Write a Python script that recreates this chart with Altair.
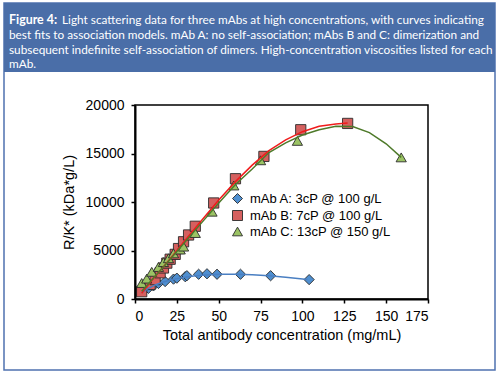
import altair as alt
import pandas as pd

# ---------------- data ----------------
series_names = ["mAb A: 3cP @ 100 g/L", "mAb B: 7cP @ 100 g/L", "mAb C: 13cP @ 150 g/L"]

a_x = [5, 8, 11, 14, 18, 23, 25, 30, 31, 38, 43, 49, 63, 81, 104]
a_y = [850, 1100, 1350, 1600, 1800, 2050, 2150, 2300, 2400, 2550, 2600, 2550, 2550, 2400, 2000]

b_x = [4, 9, 12, 15, 17, 19, 21, 24, 26, 29, 32, 36, 47, 60, 77, 99, 127]
b_y = [750, 1500, 2000, 2700, 3200, 3700, 4100, 4600, 5200, 5900, 6600, 7500, 9900, 12400, 14700, 17450, 18100]

c_x = [4, 7, 10, 14, 17, 20, 23, 27, 29, 36, 46, 59, 75, 97, 159]
c_y = [1650, 2100, 2800, 3300, 3800, 4200, 4700, 5100, 5400, 6800, 9000, 11700, 14300, 16300, 14600]

fit_a_x = [4, 8, 12, 16, 20, 25, 30, 35, 40, 50, 60, 70, 80, 90, 103]
fit_a_y = [650, 1100, 1450, 1700, 1900, 2100, 2250, 2380, 2460, 2540, 2550, 2500, 2400, 2250, 2000]

fit_b_x = [4, 10, 20, 30, 40, 50, 60, 70, 80, 90, 100, 110, 120, 127]
fit_b_y = [600, 1900, 3950, 6050, 8150, 10200, 12100, 13800, 15300, 16400, 17250, 17800, 18050, 18150]

fit_c_x = [4, 10, 20, 30, 40, 50, 60, 70, 80, 90, 100, 110, 120, 130, 140, 150, 159]
fit_c_y = [800, 1950, 3900, 5900, 7900, 9900, 11800, 13400, 15100, 16100, 16900, 17450, 17800, 17780, 17150, 16000, 14600]

fill_colors = ["#4f8fd0", "#d5605f", "#9bc364"]
line_colors = ["#4a7fc2", "#f01c1c", "#4e7a2a"]
shapes = ["diamond", "square", "triangle-up"]

x_ticks = [0, 25, 50, 75, 100, 125, 150, 175]
y_ticks = [0, 5000, 10000, 15000, 20000]

header_bold = "Figure 4:"
header_lines = [
    "Light scattering data for three mAbs at high concentrations, with curves indicating",
    "best fits to association models. mAb A: no self-association; mAbs B and C: dimerization and",
    "subsequent indefinite self-association of dimers. High-concentration viscosities listed for each",
    "mAb.",
]

# ---------------- tables ----------------
pts = pd.concat([
    pd.DataFrame({"x": a_x, "y": a_y, "series": series_names[0]}),
    pd.DataFrame({"x": b_x, "y": b_y, "series": series_names[1]}),
    pd.DataFrame({"x": c_x, "y": c_y, "series": series_names[2]}),
])
fits = pd.concat([
    pd.DataFrame({"x": fit_a_x, "y": fit_a_y, "curve": "A", "col": line_colors[0]}),
    pd.DataFrame({"x": fit_b_x, "y": fit_b_y, "curve": "B", "col": line_colors[1]}),
    pd.DataFrame({"x": fit_c_x, "y": fit_c_y, "curve": "C", "col": line_colors[2]}),
])

W, H = 293, 194
PL, PT = 135, 105

xs = alt.Scale(domain=[0, 175], nice=False)
ys = alt.Scale(domain=[0, 20000], nice=False)
xaxis = alt.Axis(values=x_ticks, title="Total antibody concentration (mg/mL)", grid=False, format="d",
                 domainColor="black", domainWidth=2, tickColor="black", tickWidth=1.5, tickSize=4,
                 labelFont="Liberation Sans", labelFontSize=14, labelColor="black", labelPadding=6,
                 titleFont="Liberation Sans", titleFontSize=14.5, titleFontWeight="normal",
                 titleColor="black", titlePadding=5, zindex=1)
yaxis = alt.Axis(values=y_ticks, title="R/K* (kDa*g/L)", grid=False, format="d",
                 domainColor="black", domainWidth=2, tickColor="black", tickWidth=1.5, tickSize=4,
                 labelFont="Liberation Sans", labelFontSize=14, labelColor="black", labelPadding=7,
                 titleFont="Liberation Sans", titleFontSize=14.5, titleFontWeight="normal",
                 titleColor="black", titlePadding=9, zindex=1)

points = alt.Chart(pts).mark_point(filled=True, opacity=1, stroke="#2a2a2a", strokeWidth=0.9, size=105).encode(
    x=alt.X("x:Q", scale=xs, axis=xaxis),
    y=alt.Y("y:Q", scale=ys, axis=yaxis),
    fill=alt.Fill("series:N", scale=alt.Scale(domain=series_names, range=fill_colors),
                  legend=alt.Legend(title=None, orient="none", legendX=96, legendY=87,
                                    labelFont="Liberation Sans", labelFontSize=13, labelColor="black",
                                    symbolSize=100, symbolStrokeColor="#2a2a2a", symbolStrokeWidth=0.9,
                                    symbolOpacity=1, rowPadding=2, labelOffset=6)),
    shape=alt.Shape("series:N", scale=alt.Scale(domain=series_names, range=shapes)),
)

lines = alt.Chart(fits).mark_line(strokeWidth=1.5).encode(
    x=alt.X("x:Q", scale=xs),
    y=alt.Y("y:Q", scale=ys),
    detail="curve:N",
    color=alt.Color("col:N", scale=None),
)

one = pd.DataFrame({"k": [0]})
frame = alt.Chart(one).mark_rect(fill="transparent", stroke="#4f72b0", strokeWidth=1.5).encode(
    x=alt.value(4 - PL), x2=alt.value(495 - PL), y=alt.value(3 - PT), y2=alt.value(370 - PT))
header = alt.Chart(one).mark_rect(fill="#4a6ea8").encode(
    x=alt.value(4 - PL), x2=alt.value(495 - PL), y=alt.value(3 - PT), y2=alt.value(72 - PT))

hdr_font = "Lato"
hdr_size = 11.8
txt_layers = [
    alt.Chart(pd.DataFrame({"t": [header_bold]})).mark_text(
        align="left", baseline="alphabetic", font=hdr_font, fontSize=12.4, fontWeight="bold",
        color="white").encode(x=alt.value(9 - PL), y=alt.value(24.3 - PT), text="t:N")
]
baselines = [24.3, 39.0, 53.7, 68.4]
for i, line in enumerate(header_lines):
    x0 = 62 if i == 0 else 9
    txt_layers.append(
        alt.Chart(pd.DataFrame({"t": [line]})).mark_text(
            align="left", baseline="alphabetic", font=hdr_font, fontSize=hdr_size,
            color="white").encode(x=alt.value(x0 - PL), y=alt.value(baselines[i] - PT), text="t:N")
    )

chart = alt.layer(frame, header, *txt_layers, points, lines).properties(
    width=W, height=H,
    padding={"left": PL, "top": PT, "right": 500 - PL - W, "bottom": 375 - PT - H},
    autosize=alt.AutoSizeParams(type="none"),
    background="white",
).configure_view(stroke="black", strokeWidth=1.5)

chart.save("out.html", embed_options={"renderer": "svg", "actions": False})
